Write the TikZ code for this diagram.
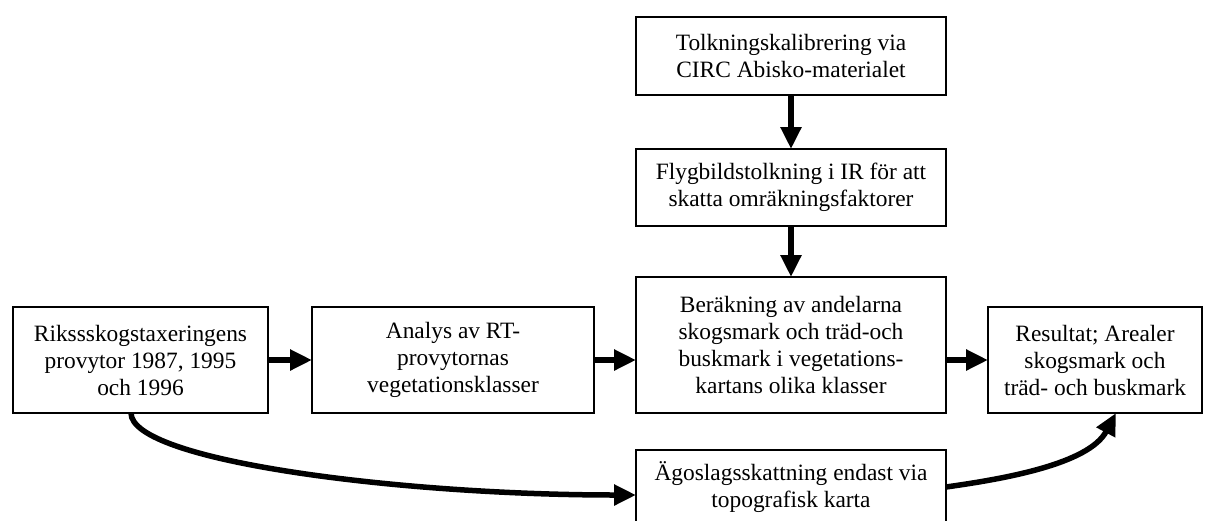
\documentclass[tikz,border=0pt]{standalone}
\usepackage{fontspec}
\setmainfont{Liberation Serif}
\usetikzlibrary{arrows.meta}
\begin{document}
\begin{tikzpicture}[x=1pt,y=-1pt,
  box/.style={draw, line width=1.8pt, align=center, inner sep=0pt, outer sep=0pt,
    font=\fontsize{23.4}{27}\selectfont},
  arr/.style={line width=6pt, -{Triangle[length=22pt,width=20pt]}},
  carr/.style={line width=5.5pt, -{Triangle[length=22pt,width=20pt]}}]
\useasboundingbox (0,0) rectangle (1205,520);
\node[box, minimum width=310pt, minimum height=78pt] (calib) at (791,56)
  {Tolkningskalibrering via\\CIRC Abisko-materialet};
\node[box, minimum width=310pt, minimum height=77pt] (flyg) at (791,187.5)
  {Flygbildstolkning i IR för att\\skatta omräkningsfaktorer};
\node[box, minimum width=310pt, minimum height=136pt] (ber) at (791,345)
  {Beräkning av andelarna\\skogsmark och träd-och\\buskmark i vegetations-\\kartans olika klasser};
\node[box, minimum width=255pt, minimum height=106pt] (riks) at (140.5,360)
  {Rikssskogstaxeringens\\provytor 1987, 1995\\och 1996};
\node[box, minimum width=282pt, minimum height=106pt] (analys) at (453,360)
  {Analys av RT-\\provytornas\\vegetationsklasser};
\node[box, minimum width=214pt, minimum height=106pt] (res) at (1095,360)
  {Resultat; Arealer\\skogsmark och\\träd- och buskmark};
\node[box, minimum width=310pt, minimum height=74pt] (ago) at (791,487)
  {Ägoslagsskattning endast via\\topografisk karta};
\draw[arr] (calib) -- (flyg);
\draw[arr] (flyg) -- (ber);
\draw[arr] (riks) -- (analys);
\draw[arr] (analys.east) -- (analys.east -| ber.west);
\draw[arr] (ber.east |- res.west) -- (res.west);
\draw[carr] ([xshift=-9.5pt]riks.south) to[out=-90,in=180,out looseness=0.24,in looseness=1.18] ([yshift=-8pt]ago.west);
\draw[carr] (ago.east) to[out=8,in=-118,looseness=0.8] ([xshift=21pt]res.south);
\end{tikzpicture}
\end{document}
